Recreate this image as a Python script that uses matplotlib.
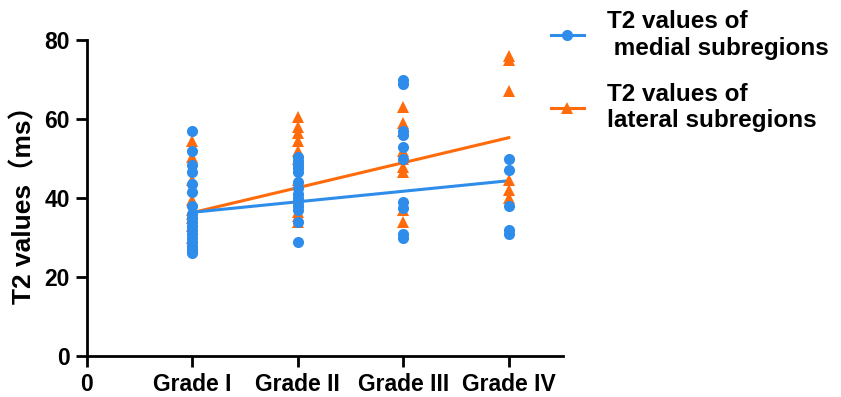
import matplotlib.pyplot as plt
from matplotlib.lines import Line2D

plt.rcParams['font.family'] = ['Liberation Sans', 'Noto Sans CJK SC']
plt.rcParams['font.weight'] = 'bold'

# Data
grades = ['Grade I', 'Grade II', 'Grade III', 'Grade IV']
medial = [
    [57, 52, 48.5, 46.5, 43.5, 41.5, 38, 36, 35, 34, 33, 32, 31, 30, 29, 28, 27, 26.5, 26],
    [50.5, 49.5, 48.5, 47.5, 46.5, 44, 42.5, 41, 40, 39, 38, 37, 34, 29],
    [70, 69, 57, 56, 53, 50, 39, 37.5, 31, 30],
    [50, 47, 38, 32, 31],
]
lateral = [
    [54.5, 50.5, 44.5, 39.5, 37, 36, 35, 33, 30],
    [60.5, 58, 56.5, 54.5, 52, 50, 44.5, 40, 36.5, 35.5, 34],
    [63, 59, 57, 52, 50, 48, 46.5, 37, 34],
    [76, 75, 67, 44.5, 42, 40],
]
# regression line values at Grade I and Grade IV
fit_x = [1, 4]
fit_medial = [36.4, 44.4]
fit_lateral = [36.3, 55.3]

blue = '#2E8DEB'
orange = '#FF6A0A'

fig = plt.figure(figsize=(8.41, 3.97), dpi=100)
ax = fig.add_axes([0.103, 0.103, 0.566, 0.796])

# lines first, then orange triangles, then blue circles on top
ax.plot(fit_x, fit_lateral, color=orange, lw=2.2, zorder=2)
ax.plot(fit_x, fit_medial, color=blue, lw=2.2, zorder=2)
for i, vals in enumerate(lateral):
    ax.plot([i + 1] * len(vals), vals, '^', color=orange, markersize=8,
            markeredgewidth=0, zorder=3)
for i, vals in enumerate(medial):
    ax.plot([i + 1] * len(vals), vals, 'o', color=blue, markersize=8,
            markeredgewidth=0, zorder=4)

ax.set_xlim(0, 4.51)
ax.set_ylim(0, 80)
ax.set_xticks([0, 1, 2, 3, 4])
ax.set_xticklabels(['0'] + grades, fontsize=16.5, fontweight='bold')
ax.set_yticks([0, 20, 40, 60, 80])
ax.set_yticklabels(['0', '20', '40', '60', '80'], fontsize=16.5, fontweight='bold')
ax.tick_params(direction='out', length=8, width=2, pad=4)
for side in ['top', 'right']:
    ax.spines[side].set_visible(False)
for side in ['left', 'bottom']:
    ax.spines[side].set_linewidth(2)
ax.set_ylabel('T2 values（ms）', fontsize=19, fontweight='bold', labelpad=6)

handles = [
    Line2D([], [], color=blue, lw=2.2, marker='o', markersize=8, markeredgewidth=0),
    Line2D([], [], color=orange, lw=2.2, marker='^', markersize=8, markeredgewidth=0),
]
labels = ['T2 values of\n medial subregions', 'T2 values of\nlateral subregions']
fig.legend(handles, labels, loc='upper left', bbox_to_anchor=(0.629, 1.03),
           frameon=False, handlelength=1.35, handletextpad=0.95,
           labelspacing=0.95, prop={'weight': 'bold', 'size': 17.5})

fig.savefig('out.png', dpi=100)
